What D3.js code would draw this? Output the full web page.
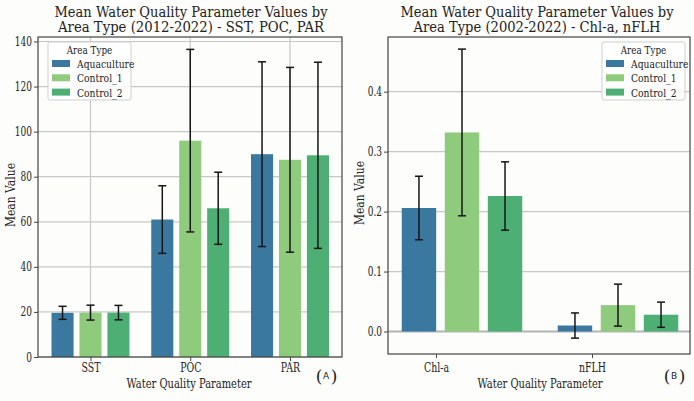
<!DOCTYPE html>
<html lang="en">
<head>
<meta charset="UTF-8">
<title>Mean Water Quality Parameter Values</title>
<script src="https://d3js.org/d3.v7.min.js"></script>
<style>
    body { margin: 0; background: #fdfdfc; }
    text { font-family: 'DejaVu Serif', serif; fill: #222; }
    .tick text { font-size: 12.5px; }
    .domain { stroke: #444; }
    .tick line { stroke: #444; }
    .grid line { stroke: #c8c8c8; stroke-width: 1.2; }
</style>
</head>
<body>
<script>
    const areaTypes = ['Aquaculture', 'Control_1', 'Control_2'];
    const colors = ['#3b78a0', '#8fcb7d', '#4daf74'];

    // panel A
    const paramsA = ['SST', 'POC', 'PAR'];
    const meanA = [
        [19.6, 19.7, 19.7],   // SST
        [61, 96, 66],         // POC
        [90, 87.5, 89.5]      // PAR
    ];
    const errA = [
        [2.9, 3.3, 3.2],
        [15, 40.5, 16],
        [41, 41, 41.3]
    ];
    const ticksA = [0, 20, 40, 60, 80, 100, 120, 140];

    // panel B
    const paramsB = ['Chl-a', 'nFLH'];
    const meanB = [
        [0.206, 0.332, 0.226],
        [0.010, 0.044, 0.028]
    ];
    const errB = [
        [0.053, 0.139, 0.057],
        [0.021, 0.035, 0.021]
    ];
    const ticksB = [0.0, 0.1, 0.2, 0.3, 0.4];

    const width = 694, height = 401;
    const svg = d3.select('body').append('svg').attr('width', width).attr('height', height);
    svg.append('rect').attr('width', width).attr('height', height).attr('fill', '#fdfdfc');

    // the reference font is a narrow serif, squeeze DejaVu Serif horizontally
    function squeeze(sel, f) {
        sel.each(function () {
            const w = this.getComputedTextLength();
            this.setAttribute('textLength', w * f);
            this.setAttribute('lengthAdjust', 'spacingAndGlyphs');
        });
    }
    function fitTo(sel, w) {
        sel.attr('textLength', w).attr('lengthAdjust', 'spacingAndGlyphs');
    }

    function panel(o) {
        const g = svg.append('g');
        const x = d3.scalePoint().domain(o.params).range(o.xTicks);
        const y = d3.scaleLinear().domain(o.yDomain).range([o.bottom, o.top]);

        // grid
        g.append('g').attr('class', 'grid')
            .selectAll('line').data(o.yTicks).join('line')
            .attr('x1', o.left).attr('x2', o.right)
            .attr('y1', d => y(d)).attr('y2', d => y(d))
            .style('stroke', d => (d === 0 && o.zeroLine) ? '#b4b4b4' : null)
            .style('stroke-width', d => (d === 0 && o.zeroLine) ? 2 : null);
        if (o.xGrid) {
            g.append('g').attr('class', 'grid')
                .selectAll('line').data(o.params).join('line')
                .attr('x1', d => x(d)).attr('x2', d => x(d))
                .attr('y1', o.top).attr('y2', o.bottom);
        }

        // bars + error bars
        const groups = g.selectAll('g.grp').data(o.params).join('g').attr('class', 'grp');
        groups.each(function (p, i) {
            const c = x(p) + o.groupOffset;
            const sub = d3.scaleBand().domain(areaTypes)
                .range([c - o.groupWidth / 2, c + o.groupWidth / 2]).paddingInner(o.inner);
            const rows = areaTypes.map((a, j) => ({a, j, v: o.mean[i][j], e: o.err[i][j]}));
            const sel = d3.select(this);
            sel.selectAll('rect').data(rows).join('rect')
                .attr('x', d => sub(d.a)).attr('width', sub.bandwidth())
                .attr('y', d => y(Math.max(0, d.v))).attr('height', d => Math.abs(y(d.v) - y(0)))
                .attr('fill', d => colors[d.j]);
            const eb = sel.selectAll('g.err').data(rows).join('g').attr('class', 'err')
                .attr('transform', d => `translate(${sub(d.a) + sub.bandwidth() / 2},0)`);
            eb.append('line').attr('y1', d => y(d.v - d.e)).attr('y2', d => y(d.v + d.e))
                .attr('stroke', '#151515').attr('stroke-width', 1.5);
            eb.selectAll('line.cap').data(d => [d.v - d.e, d.v + d.e]).join('line').attr('class', 'cap')
                .attr('x1', -4).attr('x2', 4).attr('y1', d => y(d)).attr('y2', d => y(d))
                .attr('stroke', '#151515').attr('stroke-width', 1.5);
        });

        // frame
        g.append('rect').attr('x', o.left).attr('y', o.top)
            .attr('width', o.right - o.left).attr('height', o.bottom - o.top)
            .attr('fill', 'none').attr('stroke', '#444').attr('stroke-width', 1.2);

        // axes
        const ya = g.append('g').attr('transform', `translate(${o.left},0)`)
            .call(d3.axisLeft(y).tickValues(o.yTicks).tickFormat(o.fmt).tickSize(4).tickPadding(2))
            .call(a => a.select('.domain').remove());
        const xa = g.append('g').attr('transform', `translate(0,${o.bottom})`)
            .call(d3.axisBottom(x).tickSize(4).tickPadding(o.xPad))
            .call(a => a.select('.domain').remove());
        squeeze(ya.selectAll('text'), 0.72);
        squeeze(xa.selectAll('text'), 0.75);

        // titles
        o.title.forEach((s, k) => {
            g.append('text').attr('text-anchor', 'middle').style('font-size', '15px')
                .attr('x', o.titleX).attr('y', 17 + k * 15).text(s)
                .call(fitTo, o.titleW[k]);
        });
        g.append('text').attr('text-anchor', 'middle').style('font-size', '12.5px')
            .attr('x', o.xLabelX).attr('y', 388).text('Water Quality Parameter')
            .call(fitTo, 125);
        g.append('text').attr('text-anchor', 'middle').style('font-size', '13px')
            .attr('transform', `translate(${o.yLabelX},${o.yLabelY}) rotate(-90)`)
            .text('Mean Value').call(fitTo, 64);

        // panel tag
        const tx = o.right - 16;
        g.append('text').attr('text-anchor', 'middle').style('font-size', '17px')
            .attr('x', tx - 7).attr('y', 382).text('(');
        g.append('text').attr('text-anchor', 'middle').style('font-size', '17px')
            .attr('x', tx + 8).attr('y', 382).text(')');
        g.append('text').attr('text-anchor', 'middle').style('font-size', '9px')
            .style('font-family', 'DejaVu Sans, sans-serif')
            .attr('x', tx).attr('y', 379).text(o.tag);

        // legend
        const lg = g.append('g').attr('transform', `translate(${o.legX},42)`);
        lg.append('rect').attr('width', 83).attr('height', 58).attr('rx', 2)
            .attr('fill', 'white').attr('fill-opacity', 0.85).attr('stroke', '#cfcfcf');
        lg.append('text').attr('x', 41.5).attr('y', 12).attr('text-anchor', 'middle')
            .style('font-size', '11px').text('Area Type').call(squeeze, 0.8);
        const it = lg.selectAll('g.it').data(areaTypes).join('g').attr('class', 'it')
            .attr('transform', (d, i) => `translate(4,${18 + i * 14.3})`);
        it.append('rect').attr('width', 18).attr('height', 7).attr('fill', (d, i) => colors[i]);
        it.append('text').attr('x', 25).attr('y', 8).style('font-size', '11.5px').text(d => d)
            .call(squeeze, 0.8);
    }

    panel({
        params: paramsA, mean: meanA, err: errA, yTicks: ticksA,
        left: 38, right: 342, top: 37, bottom: 357,
        yDomain: [0, 142], xTicks: [90.5, 290], groupOffset: 0, groupWidth: 78, inner: 0.21,
        xGrid: true, zeroLine: false, fmt: d3.format('d'), xPad: 2,
        title: ['Mean Water Quality Parameter Values by', 'Area Type (2012-2022) - SST, POC, PAR'],
        titleX: 191, titleW: [273, 266], tag: 'A', legX: 48,
        xLabelX: 189, yLabelX: 15, yLabelY: 195
    });
    panel({
        params: paramsB, mean: meanB, err: errB, yTicks: ticksB,
        left: 388, right: 690, top: 37, bottom: 354,
        yDomain: [-0.0375, 0.4912], xTicks: [436, 592], groupOffset: 26, groupWidth: 120.5, inner: 0.2,
        xGrid: false, zeroLine: true, fmt: d3.format('.1f'), xPad: 5,
        title: ['Mean Water Quality Parameter Values by', 'Area Type (2002-2022) - Chl-a, nFLH'],
        titleX: 537, titleW: [273, 247], tag: 'B', legX: 602,
        xLabelX: 540, yLabelX: 364, yLabelY: 193
    });
</script>
</body>
</html>
